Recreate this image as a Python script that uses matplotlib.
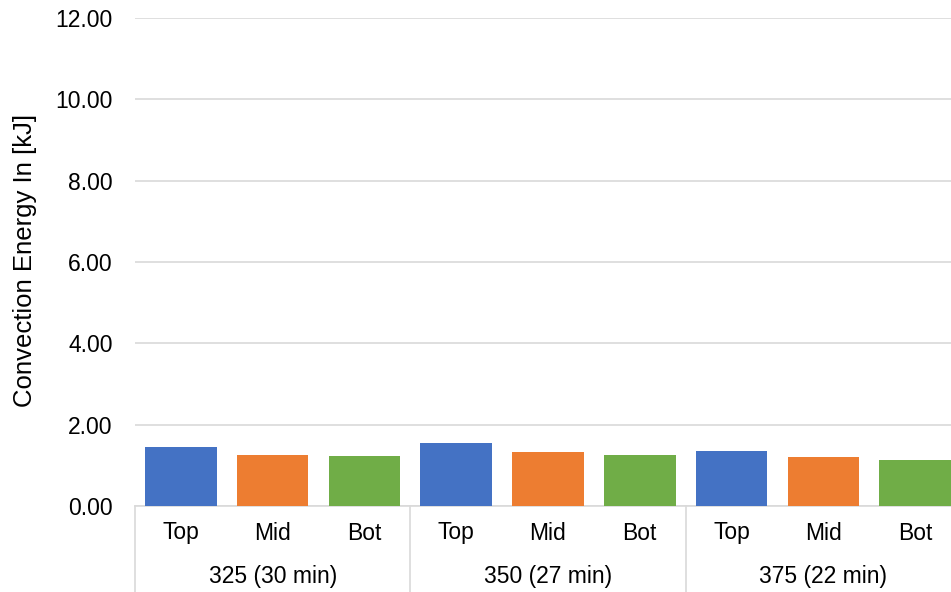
import matplotlib.pyplot as plt
import matplotlib.transforms as mtrans
import numpy as np

plt.rcParams['font.family'] = ['Liberation Sans', 'DejaVu Sans']

groups = ['325 (30 min)', '350 (27 min)', '375 (22 min)']
positions = ['Top', 'Mid', 'Bot']
energy = [
    [1.44, 1.26, 1.23],
    [1.54, 1.32, 1.26],
    [1.35, 1.20, 1.14],
]
colors = ['#4472C4', '#ED7D31', '#70AD47']
yticks = [0, 2, 4, 6, 8, 10, 12]

W, H = 951, 592
fig = plt.figure(figsize=(W / 100, H / 100), dpi=100)
# plot area runs past the right edge of the picture, as in the original
left, right, top, bottom = 135, 961, 18, 506
ax = fig.add_axes([left / W, 1 - bottom / H, (right - left) / W, (bottom - top) / H])

x = np.arange(len(groups) * len(positions))
heights = [v for g in energy for v in g]
bar_colors = [colors[i % 3] for i in range(len(x))]
ax.bar(x, heights, width=0.78, color=bar_colors, zorder=3)

ax.set_xlim(-0.5, len(x) - 0.5)
ax.set_ylim(0, 12)
ax.set_yticks(yticks)
ax.set_yticklabels(['%.2f' % t for t in yticks], fontsize=16.5, color='#000000')
ax.tick_params(axis='y', length=0, pad=16)
ax.set_xticks([])
ax.grid(axis='y', color='#D9D9D9', linewidth=1.2, zorder=0)
for s in ['top', 'right', 'left']:
    ax.spines[s].set_visible(False)
ax.spines['bottom'].set_color('#D9D9D9')
ax.spines['bottom'].set_linewidth(1.2)

tr = mtrans.blended_transform_factory(ax.transData, fig.transFigure)
for i, pos in enumerate(x):
    ax.text(pos, 1 - 533 / H, positions[i % 3], transform=tr, ha='center', va='center',
            fontsize=16.5)
for g, name in enumerate(groups):
    ax.text(g * 3 + 1, 1 - 577 / H, name, transform=tr, ha='center', va='center',
            fontsize=16.5)
for g in range(len(groups) + 1):
    ax.plot([g * 3 - 0.5, g * 3 - 0.5], [1 - bottom / H, 0], transform=tr,
            color='#D9D9D9', linewidth=1.2, clip_on=False)

fig.text(25 / W, 1 - 260 / H, 'Convection Energy In [kJ]', rotation=90,
         ha='center', va='center', fontsize=18.5)

fig.savefig('out.png', dpi=100)
